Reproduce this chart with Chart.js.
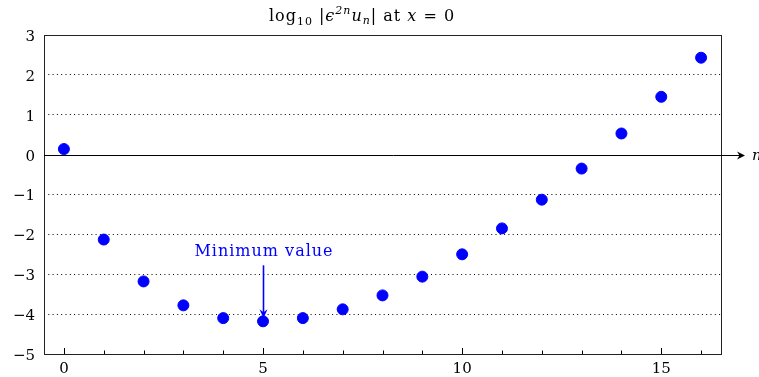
<!DOCTYPE html>
<html>
<head>
<meta charset="utf-8">
<script src="https://cdn.jsdelivr.net/npm/chart.js@4"></script>
<style>
  body { margin: 0; background: #fff; }
  #wrap { width: 759px; height: 377px; }
</style>
</head>
<body>
<div id="wrap"><canvas id="grafico"></canvas></div>
<script>
// datos
const nValues = [0, 1, 2, 3, 4, 5, 6, 7, 8, 9, 10, 11, 12, 13, 14, 15, 16];
const logValues = [0.14, -2.13, -3.18, -3.78, -4.1, -4.18, -4.1, -3.88, -3.53, -3.06, -2.5, -1.85, -1.13, -0.35, 0.53, 1.45, 2.43];
const xTicks = [0, 5, 10, 15];
const yTicks = [-5, -4, -3, -2, -1, 0, 1, 2, 3];
const annotationText = 'Minimum value';

const serif = '"DejaVu Serif", "Liberation Serif", serif';
const azul = '#0000ff';

// titulo, ejes, flecha y anotacion
const decoracion = {
  id: 'decoracion',
  afterDraw(chart) {
    const c = chart.ctx;
    const a = chart.chartArea;
    const xs = chart.scales.x;
    const ys = chart.scales.y;
    c.save();

    // ticks del eje x hacia adentro
    c.strokeStyle = '#000';
    c.lineWidth = 1;
    for (let i = 0; i <= 16; i++) {
      const px = Math.round(xs.getPixelForValue(i)) + 0.5;
      const len = xTicks.includes(i) ? 6 : 3.5;
      c.beginPath();
      c.moveTo(px, a.bottom);
      c.lineTo(px, a.bottom - len);
      c.stroke();
    }

    // marco
    c.lineWidth = 1;
    c.strokeStyle = '#222';
    c.strokeRect(Math.round(a.left) + 0.5, Math.round(a.top) + 0.5, Math.round(a.right - a.left), Math.round(a.bottom - a.top));

    // eje n con flecha
    const y0 = Math.round(ys.getPixelForValue(0)) + 0.5;
    const xEnd = 745;
    c.strokeStyle = '#000';
    c.beginPath();
    c.moveTo(a.left, y0);
    c.lineTo(xEnd - 2, y0);
    c.stroke();
    c.fillStyle = '#000';
    c.beginPath();
    c.moveTo(xEnd, y0);
    c.lineTo(xEnd - 8, y0 - 4);
    c.lineTo(xEnd - 5.5, y0);
    c.lineTo(xEnd - 8, y0 + 4);
    c.closePath();
    c.fill();
    c.font = 'italic 15px ' + serif;
    c.textBaseline = 'middle';
    c.textAlign = 'left';
    c.fillText('n', 752, y0 + 1);

    // anotacion del minimo
    let iMin = 0;
    logValues.forEach((v, i) => { if (v < logValues[iMin]) iMin = i; });
    const mx = Math.round(xs.getPixelForValue(nValues[iMin])) + 0.5;
    const my = ys.getPixelForValue(logValues[iMin]);
    const tip = my - 3;
    c.strokeStyle = azul;
    c.fillStyle = azul;
    c.lineWidth = 1.6;
    c.beginPath();
    c.moveTo(mx, tip - 53);
    c.lineTo(mx, tip - 4);
    c.stroke();
    c.beginPath();
    c.moveTo(mx, tip);
    c.lineTo(mx - 4, tip - 9);
    c.lineTo(mx, tip - 6);
    c.lineTo(mx + 4, tip - 9);
    c.closePath();
    c.fill();
    c.font = '16px ' + serif;
    c.letterSpacing = '1px';
    c.textAlign = 'center';
    c.textBaseline = 'alphabetic';
    c.fillText(annotationText, mx + 0.5, tip - 62);

    // titulo con sub/superindices
    const partes = [
      ['log', '16px', 0],
      ['10', '11px', 4],
      [' |', '16px', 0],
      ['ϵ', 'italic 16px', 0],
      ['2n', 'italic 11px', -7],
      ['u', 'italic 16px', 0],
      ['n', 'italic 11px', 3],
      ['| at ', '16px', 0],
      ['x', 'italic 16px', 0],
      [' = 0', '16px', 0]
    ];
    let total = 0;
    partes.forEach(p => { c.font = p[1] + ' ' + serif; total += c.measureText(p[0]).width; });
    let tx = 362 - total / 2;
    c.fillStyle = '#000';
    c.textAlign = 'left';
    partes.forEach(p => {
      c.font = p[1] + ' ' + serif;
      c.fillText(p[0], tx, 21 + p[2]);
      tx += c.measureText(p[0]).width;
    });
    c.restore();
  }
};

new Chart(document.getElementById('grafico').getContext('2d'), {
  type: 'scatter',
  data: {
    datasets: [{
      data: nValues.map((n, i) => ({ x: n, y: logValues[i] })),
      backgroundColor: azul,
      borderColor: azul,
      pointRadius: 5.5,
      pointHoverRadius: 5.5
    }]
  },
  options: {
    responsive: true,
    maintainAspectRatio: false,
    animation: false,
    events: [],
    layout: { padding: { top: 35, right: 38, left: 0, bottom: 0 } },
    plugins: { legend: { display: false }, tooltip: { enabled: false } },
    scales: {
      x: {
        type: 'linear',
        min: -0.5,
        max: 16.5,
        afterBuildTicks: s => { s.ticks = xTicks.map(v => ({ value: v })); },
        afterFit: s => { s.height = 23; },
        grid: { display: false, drawTicks: false },
        border: { display: false },
        ticks: { color: '#000', font: { family: serif, size: 15 }, padding: 6, maxRotation: 0 }
      },
      y: {
        min: -5,
        max: 3,
        afterBuildTicks: s => { s.ticks = yTicks.map(v => ({ value: v })); },
        afterFit: s => { s.width = 44; },
        grid: {
          drawTicks: false,
          lineWidth: 1,
          color: ctx => (ctx.tick && [3, 0, -5].includes(ctx.tick.value)) ? 'rgba(0,0,0,0)' : '#000'
        },
        border: { display: false, dash: [1, 3.3] },
        ticks: {
          color: '#000',
          font: { family: serif, size: 15 },
          padding: 9,
          labelOffset: 2,
          callback: v => (v < 0 ? '\u2212' + Math.abs(v) : String(v))
        }
      }
    }
  },
  plugins: [decoracion]
});
</script>
</body>
</html>
